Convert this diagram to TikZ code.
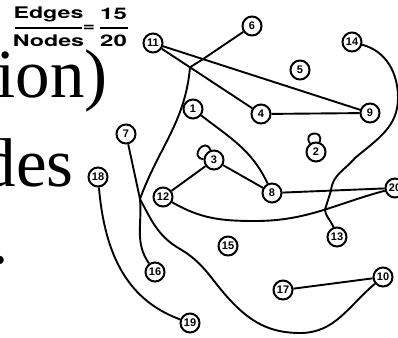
\documentclass[tikz,border=0pt]{standalone}
\usepackage{fontspec}
\usepackage{graphicx}
\setmainfont{Liberation Serif}
\newfontfamily\numfont{Liberation Sans}
\newfontfamily\labfont{TeX Gyre Heros}
\begin{document}
\begin{tikzpicture}[x=1pt,y=1pt,
  vtx/.style={circle,draw,line width=2pt,fill=white,minimum size=19pt,inner sep=0pt,
    font=\numfont\bfseries\fontsize{11}{11}\selectfont},
  edge/.style={line width=1.9pt},
  big/.style={inner sep=0pt,font=\fontsize{69}{69}\selectfont},
  lab/.style={inner sep=0pt,font=\labfont\bfseries\fontsize{16}{16}\selectfont},
  fbar/.style={fill=black,inner sep=0pt,minimum height=2pt}]
\useasboundingbox[fill=white] (0,0) rectangle (398,-337);

% slide text fragments
\node[big,anchor=base east] (t1) at (108,-97) {ion)};
\node[big,anchor=base east] (t2) at (74,-186) {des};
\node[big,anchor=base west] (t3) at (-8.5,-263) {.};

% ratio label
\node[lab,anchor=base] (eT) at (48.5,-19) {\scalebox{1.45}[1]{Edges}};
\node[fbar,minimum width=67pt] (bar1) at (48.5,-28) {};
\node[lab,anchor=base] (eB) at (48.5,-47) {\scalebox{1.45}[1]{Nodes}};
\node[lab] (eq) at (89,-28) {\scalebox{1.3}[1]{=}};
\node[lab,anchor=base] (fT) at (113.5,-20) {\scalebox{1.5}[1]{15}};
\node[fbar,minimum width=28pt] (bar2) at (114,-28) {};
\node[lab,anchor=base] (fB) at (113.5,-47) {\scalebox{1.5}[1]{20}};

% vertices
\node[vtx] (n11) at (153,-43) {11};
\node[vtx] (n6)  at (252,-26) {6};
\node[vtx] (n14) at (352,-42) {14};
\node[vtx] (n5)  at (300,-70) {5};
\node[vtx] (n1)  at (193,-109) {1};
\node[vtx] (n4)  at (261,-114) {4};
\node[vtx] (n9)  at (370,-113) {9};
\node[vtx] (n7)  at (126,-134) {7};
\node[vtx] (n2)  at (316,-152) {2};
\node[vtx] (n3)  at (214,-160) {3};
\node[vtx] (n18) at (98,-177) {18};
\node[vtx] (n12) at (163,-197) {12};
\node[vtx] (n8)  at (272,-193) {8};
\node[vtx] (n20) at (395,-188) {20};
\node[vtx] (n13) at (337,-237) {13};
\node[vtx] (n15) at (228,-246) {15};
\node[vtx] (n16) at (155,-272) {16};
\node[vtx] (n17) at (283,-290) {17};
\node[vtx] (n10) at (383,-277) {10};
\node[vtx] (n19) at (190,-323) {19};

% junction / waypoint coordinates
\coordinate (j1) at (203,-59.1);
\coordinate (j2) at (190,-67.3);
\coordinate (j3) at (140,-199);
\coordinate (ka) at (180,-249);
\coordinate (kb) at (230,-300);
\coordinate (kc) at (300,-333);
\coordinate (m1) at (398,-98);
\coordinate (m2) at (355,-158);
\coordinate (m3) at (331,-190.6);
\coordinate (m4) at (325,-209.5);
\coordinate (p1) at (255,-221);

% edges
\draw[edge] (n11) -- (n9);
\draw[edge] (n11) -- (n4);
\draw[edge] (n4) -- (n9);
\draw[edge] (n6) -- (j1) -- (j2) to[out=-95,in=70] (j3)
  to[out=-62,in=150] (ka) to[out=-30,in=133] (kb)
  to[out=-47,in=180] (kc) to[out=0,in=-140] (n10);
\draw[edge] (n7) -- (j3) to[out=-85,in=125] (n16);
\draw[edge] (n1) to[out=-38,in=115] (n8);
\draw[edge] (n3) -- (n8);
\draw[edge] (n3) -- (n12);
\draw[edge] (n8) -- (n20);
\draw[edge] (n12) to[out=-30,in=180] (p1) to[out=0,in=195] (n20);
\draw[edge] (n14) to[out=-15,in=90] (m1) to[out=-90,in=40] (m2)
  to[out=-130,in=85] (m3) -- (m4) to[out=-85,in=110] (n13);
\draw[edge] (n18) to[out=-85,in=160] (n19);
\draw[edge] (n17) -- (n10);
\draw[edge] (n3.110) .. controls +(110:15) and +(175:15) .. (n3.175);
\draw[edge] (n2.70) .. controls +(70:14) and +(125:14) .. (n2.125);
\end{tikzpicture}
\end{document}
